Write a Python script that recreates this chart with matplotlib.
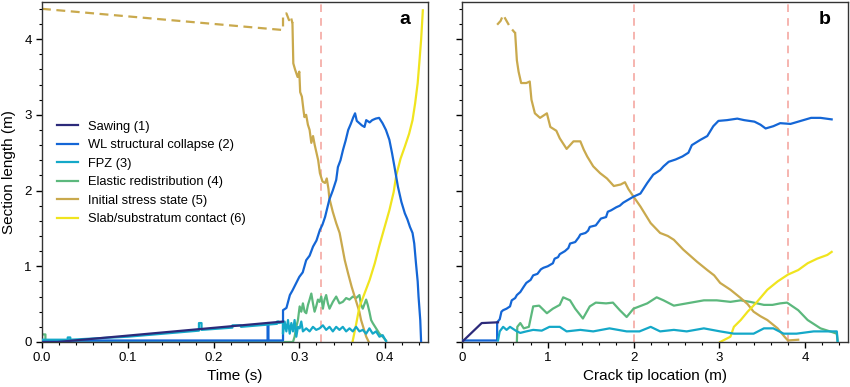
import matplotlib
matplotlib.use('Agg')
import matplotlib.pyplot as plt
from matplotlib.ticker import MultipleLocator

plt.rcParams['font.family'] = ['Liberation Sans', 'DejaVu Sans']

labels = ['Sawing (1)', 'WL structural collapse (2)', 'FPZ (3)',
          'Elastic redistribution (4)', 'Initial stress state (5)',
          'Slab/substratum contact (6)']
colors = ['#2c2a7a', '#1466d6', '#14a8c8', '#5cb87d', '#c9a94d', '#f0e41e']

# ---------- panel a : time (s) ----------
a_saw_x = [0.0, 0.018, 0.281]
a_saw_y = [0.0, 0.0, 0.27]

a_wl_x = [0.0, 0.263, 0.263, 0.264, 0.264, 0.281, 0.281, 0.285, 0.289, 0.292,
          0.300, 0.304, 0.308, 0.312, 0.316, 0.320, 0.324, 0.327, 0.330, 0.335,
          0.339, 0.343, 0.345, 0.348, 0.351, 0.354, 0.357, 0.360, 0.363, 0.365,
          0.367, 0.370, 0.373, 0.376, 0.378, 0.382, 0.385, 0.389, 0.393, 0.397,
          0.401, 0.405, 0.408, 0.411, 0.415, 0.419, 0.423, 0.426, 0.429, 0.432,
          0.434, 0.436, 0.438, 0.439, 0.441, 0.442]
a_wl_y = [0.02, 0.02, 0.25, 0.25, 0.02, 0.02, 0.42, 0.45, 0.62, 0.68,
          0.86, 0.92, 1.08, 1.14, 1.26, 1.34, 1.48, 1.55, 1.65, 1.88,
          2.00, 2.14, 2.31, 2.40, 2.54, 2.66, 2.80, 2.88, 2.97, 3.02,
          2.92, 2.89, 2.86, 2.84, 2.93, 2.90, 2.93, 2.95, 2.96, 2.89,
          2.80, 2.67, 2.50, 2.31, 2.05, 1.85, 1.70, 1.62, 1.52, 1.44,
          1.30, 1.04, 0.80, 0.60, 0.29, 0.0]

a_fpz_x = [0.0, 0.03, 0.03, 0.033, 0.033, 0.10, 0.183, 0.183, 0.186, 0.186,
           0.222, 0.222, 0.232, 0.232, 0.274, 0.274, 0.276, 0.276, 0.281,
           0.2809, 0.2829, 0.2849, 0.2868, 0.2888, 0.2907, 0.2926, 0.2945,
           0.2965, 0.2984, 0.3004, 0.3023, 0.3042, 0.3081, 0.3120, 0.3159,
           0.3197, 0.3236, 0.3275, 0.3313, 0.3352, 0.3391, 0.3430, 0.3468,
           0.3507, 0.3546, 0.3585, 0.3624, 0.3662, 0.3701, 0.3740, 0.3779,
           0.3817, 0.3856, 0.3895, 0.3934, 0.3972, 0.4011]
a_fpz_y = [0.03, 0.03, 0.06, 0.06, 0.03, 0.07, 0.15, 0.25, 0.25, 0.16,
           0.19, 0.22, 0.22, 0.20, 0.24, 0.27, 0.27, 0.25, 0.26,
           0.11, 0.27, 0.14, 0.29, 0.11, 0.25, 0.14, 0.29,
           0.07, 0.20, 0.18, 0.27, 0.14, 0.18, 0.14, 0.20,
           0.16, 0.18, 0.22, 0.16, 0.20, 0.14, 0.20, 0.16,
           0.20, 0.14, 0.18, 0.14, 0.20, 0.14, 0.16, 0.11,
           0.18, 0.11, 0.14, 0.07, 0.09, 0.01]

a_el_x = [0.0, 0.0, 0.004, 0.004, 0.2926, 0.2945, 0.2965, 0.2984, 0.3004,
          0.3023, 0.3042, 0.3062, 0.3081, 0.3101, 0.3120, 0.3140, 0.3159,
          0.3178, 0.3197, 0.3217, 0.3236, 0.3256, 0.3275, 0.3294, 0.3313,
          0.3333, 0.3352, 0.3391, 0.3430, 0.3468, 0.3507, 0.3546, 0.3585,
          0.3624, 0.3662, 0.3701, 0.3720, 0.3740, 0.3779, 0.3798, 0.3817,
          0.3837, 0.3856, 0.3895, 0.3934, 0.3972, 0.4011]
a_el_y = [0.0, 0.10, 0.10, 0.0, 0.0, 0.07, 0.20, 0.29, 0.47,
          0.40, 0.51, 0.40, 0.38, 0.49, 0.56, 0.64, 0.51,
          0.40, 0.47, 0.56, 0.53, 0.60, 0.44, 0.56, 0.62,
          0.51, 0.44, 0.53, 0.60, 0.51, 0.53, 0.58, 0.56,
          0.60, 0.58, 0.62, 0.49, 0.44, 0.56, 0.49, 0.40,
          0.29, 0.25, 0.18, 0.11, 0.07, 0.02]

a_init_dash_x = [0.0, 0.281, 0.281, 0.285, 0.288, 0.290, 0.292]
a_init_dash_y = [4.40, 4.12, 4.32, 4.34, 4.25, 4.30, 4.21]
a_init_x = [0.292, 0.293, 0.295, 0.298, 0.300, 0.301, 0.303, 0.305, 0.306,
            0.308, 0.310, 0.312, 0.314, 0.316, 0.318, 0.320, 0.322, 0.324,
            0.327, 0.330, 0.332, 0.334, 0.335, 0.339, 0.343, 0.347, 0.350,
            0.353, 0.357, 0.361, 0.364, 0.367, 0.370, 0.372, 0.375, 0.378, 0.381]
a_init_y = [4.21, 3.68, 3.60, 3.50, 3.57, 3.30, 3.24, 3.05, 2.97,
            3.00, 2.87, 2.80, 2.63, 2.72, 2.60, 2.50, 2.40, 2.23,
            2.12, 2.10, 2.16, 2.02, 1.90, 1.72, 1.57, 1.44, 1.26,
            1.08, 0.90, 0.73, 0.62, 0.51, 0.40, 0.29, 0.18, 0.07, 0.0]

a_slab_x = [0.362, 0.366, 0.370, 0.376, 0.382, 0.388, 0.393, 0.399, 0.405,
            0.410, 0.413, 0.418, 0.423, 0.428, 0.432, 0.435, 0.438, 0.440,
            0.442, 0.444]
a_slab_y = [0.0, 0.22, 0.46, 0.64, 0.82, 1.04, 1.26, 1.50, 1.74,
            1.98, 2.20, 2.42, 2.58, 2.75, 2.93, 3.15, 3.42, 3.70,
            3.99, 4.38]

# ---------- panel b : crack tip location (m) ----------
b_saw_x = [0.0, 0.23, 0.42]
b_saw_y = [0.0, 0.25, 0.26]

b_wl_x = [0.0, 0.41, 0.41, 0.44, 0.46, 0.48, 0.52, 0.56, 0.58, 0.62, 0.64,
          0.68, 0.72, 0.75, 0.80, 0.83, 0.88, 0.92, 0.95, 1.00, 1.06, 1.08,
          1.12, 1.14, 1.20, 1.24, 1.26, 1.32, 1.36, 1.38, 1.44, 1.47, 1.49,
          1.56, 1.60, 1.62, 1.68, 1.70, 1.74, 1.80, 1.84, 1.88, 1.94, 2.00,
          2.08, 2.16, 2.23, 2.31, 2.35, 2.41, 2.49, 2.57, 2.64, 2.68, 2.78,
          2.86, 2.93, 2.99, 3.09, 3.21, 3.29, 3.41, 3.48, 3.54, 3.63, 3.71,
          3.83, 3.95, 4.07, 4.18, 4.31]
b_wl_y = [0.02, 0.02, 0.26, 0.30, 0.40, 0.42, 0.44, 0.47, 0.55, 0.58, 0.62,
          0.66, 0.73, 0.78, 0.82, 0.88, 0.90, 0.96, 0.98, 1.00, 1.04, 1.10,
          1.12, 1.16, 1.20, 1.24, 1.30, 1.32, 1.38, 1.42, 1.44, 1.47, 1.52,
          1.54, 1.60, 1.63, 1.65, 1.72, 1.74, 1.78, 1.80, 1.84, 1.88, 1.92,
          1.96, 2.10, 2.21, 2.27, 2.32, 2.38, 2.41, 2.45, 2.50, 2.60, 2.67,
          2.72, 2.85, 2.92, 2.93, 2.95, 2.93, 2.91, 2.87, 2.82, 2.85, 2.89,
          2.88, 2.92, 2.96, 2.96, 2.94]

b_fpz_x = [0.42, 0.44, 0.48, 0.52, 0.56, 0.64, 0.68, 0.75, 0.83, 0.93, 1.02,
           1.14, 1.22, 1.38, 1.53, 1.72, 1.92, 2.07, 2.20, 2.31, 2.47, 2.62,
           2.82, 3.01, 3.17, 3.40, 3.52, 3.63, 3.75, 3.90, 4.10, 4.26, 4.37,
           4.38]
b_fpz_y = [0.02, 0.14, 0.20, 0.16, 0.20, 0.14, 0.12, 0.14, 0.16, 0.15, 0.20,
           0.20, 0.14, 0.16, 0.14, 0.18, 0.14, 0.14, 0.20, 0.14, 0.16, 0.14,
           0.18, 0.14, 0.11, 0.11, 0.18, 0.18, 0.11, 0.11, 0.14, 0.14, 0.14,
           0.0]

b_el_x = [0.64, 0.645, 0.68, 0.72, 0.78, 0.83, 0.90, 0.99, 1.06, 1.14, 1.18,
          1.26, 1.32, 1.41, 1.49, 1.56, 1.68, 1.76, 1.84, 1.92, 2.00, 2.16,
          2.27, 2.35, 2.47, 2.62, 2.82, 2.97, 3.13, 3.25, 3.36, 3.52, 3.62,
          3.71, 3.79, 3.92, 4.03, 4.18, 4.29, 4.37, 4.38]
b_el_y = [0.0, 0.20, 0.25, 0.18, 0.20, 0.47, 0.48, 0.38, 0.44, 0.49, 0.59,
          0.55, 0.44, 0.31, 0.47, 0.52, 0.51, 0.52, 0.42, 0.33, 0.44, 0.51,
          0.59, 0.55, 0.48, 0.51, 0.55, 0.55, 0.53, 0.55, 0.53, 0.49, 0.49,
          0.51, 0.52, 0.42, 0.29, 0.18, 0.14, 0.11, 0.0]

b_init_dash_x = [0.41, 0.45, 0.48, 0.50, 0.53, 0.56, 0.62]
b_init_dash_y = [4.19, 4.24, 4.32, 4.28, 4.22, 4.16, 4.08]
b_init_x = [0.62, 0.64, 0.66, 0.69, 0.75, 0.79, 0.81, 0.85, 0.91, 0.99, 1.03,
            1.10, 1.14, 1.22, 1.30, 1.38, 1.42, 1.46, 1.53, 1.61, 1.69, 1.77,
            1.85, 1.90, 1.94, 2.00, 2.08, 2.14, 2.20, 2.31, 2.40, 2.47, 2.58,
            2.66, 2.74, 2.86, 2.94, 3.01, 3.13, 3.25, 3.33, 3.40, 3.48, 3.56,
            3.68, 3.76, 3.80, 3.92]
b_init_y = [4.08, 3.72, 3.57, 3.42, 3.42, 3.44, 3.20, 3.02, 2.96, 3.02, 2.84,
            2.79, 2.69, 2.55, 2.65, 2.65, 2.54, 2.45, 2.32, 2.23, 2.16, 2.06,
            2.08, 2.11, 2.02, 1.92, 1.79, 1.68, 1.57, 1.44, 1.40, 1.35, 1.22,
            1.14, 1.06, 0.95, 0.88, 0.78, 0.69, 0.58, 0.50, 0.40, 0.34, 0.29,
            0.18, 0.07, 0.02, 0.03]

b_slab_x = [3.01, 3.13, 3.17, 3.25, 3.33, 3.44, 3.56, 3.68, 3.80, 3.92, 4.03,
            4.14, 4.26, 4.31]
b_slab_y = [0.0, 0.07, 0.20, 0.29, 0.40, 0.53, 0.69, 0.80, 0.89, 0.95, 1.04,
            1.10, 1.15, 1.19]

a_vlines = [0.325]
b_vlines = [2.0, 3.8]

fig = plt.figure(figsize=(8.5, 3.87), dpi=100)
ax1 = fig.add_axes([0.0494, 0.1163, 0.4541, 0.8785])
ax2 = fig.add_axes([0.5435, 0.1163, 0.4541, 0.8785], sharey=ax1)

lw = 1.6
vcol = '#f4a09a'

def draw(ax, saw, wl, fpz, el, init_dash, init, slab, vlines):
    for v in vlines:
        ax.axvline(v, color=vcol, ls=(0, (5, 4)), lw=1.1, zorder=1)
    ax.plot(*wl, color=colors[1], lw=lw, zorder=3)
    ax.plot(*saw, color=colors[0], lw=lw, zorder=4)
    ax.plot(*fpz, color=colors[2], lw=lw, zorder=3)
    ax.plot(*el, color=colors[3], lw=lw, zorder=2)
    ax.plot(*init_dash, color=colors[4], lw=lw, ls=(0, (4, 2.5)), zorder=2)
    ax.plot(*init, color=colors[4], lw=lw, zorder=2)
    ax.plot(*slab, color=colors[5], lw=lw, zorder=2)

draw(ax1, (a_saw_x, a_saw_y), (a_wl_x, a_wl_y), (a_fpz_x, a_fpz_y),
     (a_el_x, a_el_y), (a_init_dash_x, a_init_dash_y), (a_init_x, a_init_y),
     (a_slab_x, a_slab_y), a_vlines)
draw(ax2, (b_saw_x, b_saw_y), (b_wl_x, b_wl_y), (b_fpz_x, b_fpz_y),
     (b_el_x, b_el_y), (b_init_dash_x, b_init_dash_y), (b_init_x, b_init_y),
     (b_slab_x, b_slab_y), b_vlines)

ax1.set_xlim(0, 0.45)
ax2.set_xlim(0, 4.5)
ax1.set_ylim(0, 4.49)

ax1.xaxis.set_major_locator(MultipleLocator(0.1))
ax1.xaxis.set_minor_locator(MultipleLocator(0.02))
ax1.xaxis.set_major_formatter(plt.FuncFormatter(lambda v, p: f'{v:.1f}'))
ax2.xaxis.set_major_locator(MultipleLocator(1))
ax2.xaxis.set_minor_locator(MultipleLocator(0.2))
ax1.yaxis.set_major_locator(MultipleLocator(1))
ax1.yaxis.set_minor_locator(MultipleLocator(0.2))

for ax in (ax1, ax2):
    ax.tick_params(which='major', direction='out', length=4, width=1, labelsize=9.5)
    ax.tick_params(which='minor', direction='out', length=2.2, width=0.8)
    for s in ax.spines.values():
        s.set_color('#333333')
        s.set_linewidth(1.0)
ax2.tick_params(labelleft=False)

ax1.set_xlabel('Time (s)', fontsize=11, labelpad=3)
ax2.set_xlabel('Crack tip location (m)', fontsize=11, labelpad=3)
ax1.set_ylabel('Section length (m)', fontsize=11, labelpad=6)

ax1.text(0.955, 0.975, 'a', transform=ax1.transAxes, fontsize=14,
         fontweight='bold', ha='right', va='top')
ax2.text(0.955, 0.975, 'b', transform=ax2.transAxes, fontsize=14,
         fontweight='bold', ha='right', va='top')

handles = [plt.Line2D([], [], color=c, lw=lw) for c in colors]
ax1.legend(handles, labels, loc='upper left', bbox_to_anchor=(0.01, 0.685),
           frameon=False, fontsize=9.3, handlelength=1.6, labelspacing=0.5,
           handletextpad=0.8)

fig.savefig('out.png', dpi=100)
